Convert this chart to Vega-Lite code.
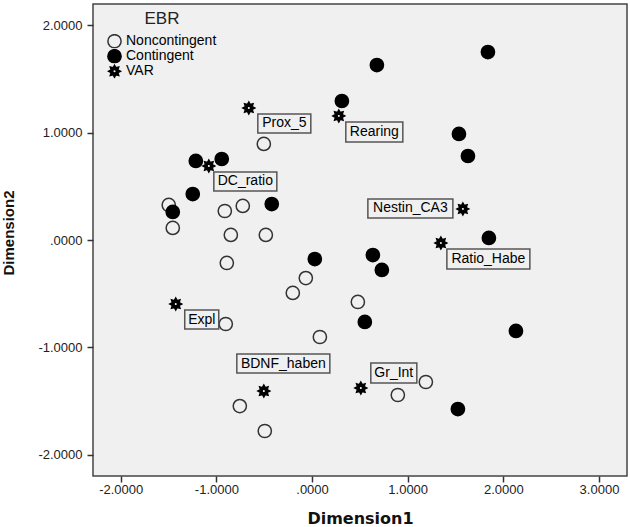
{
  "$schema": "https://vega.github.io/schema/vega-lite/v6.json",
  "width": 534,
  "height": 472,
  "autosize": "none",
  "padding": {"left": 93, "top": 4, "right": 3, "bottom": 51},
  "background": "white",
  "config": {
    "font": "Liberation Sans",
    "view": {"fill": "#f0f0f0", "stroke": "#444444", "strokeWidth": 1.5},
    "axis": {
      "grid": false,
      "domain": false,
      "tickColor": "#333333",
      "tickWidth": 1.5,
      "tickSize": 6,
      "labelFont": "Liberation Sans",
      "labelFontSize": 13,
      "labelColor": "#222222",
      "titleColor": "#111111",
      "titleFontWeight": "bold"
    }
  },
  "datasets": {
    "pts": [
      {"dim1": -1.498, "dim2": 0.326, "group": "Noncontingent", "label": ""},
      {"dim1": -1.456, "dim2": 0.112, "group": "Noncontingent", "label": ""},
      {"dim1": -0.912, "dim2": 0.270, "group": "Noncontingent", "label": ""},
      {"dim1": -0.724, "dim2": 0.317, "group": "Noncontingent", "label": ""},
      {"dim1": -0.849, "dim2": 0.047, "group": "Noncontingent", "label": ""},
      {"dim1": -0.483, "dim2": 0.047, "group": "Noncontingent", "label": ""},
      {"dim1": -0.891, "dim2": -0.214, "group": "Noncontingent", "label": ""},
      {"dim1": -0.504, "dim2": 0.894, "group": "Noncontingent", "label": ""},
      {"dim1": -0.065, "dim2": -0.354, "group": "Noncontingent", "label": ""},
      {"dim1": -0.201, "dim2": -0.493, "group": "Noncontingent", "label": ""},
      {"dim1": 0.479, "dim2": -0.577, "group": "Noncontingent", "label": ""},
      {"dim1": -0.902, "dim2": -0.782, "group": "Noncontingent", "label": ""},
      {"dim1": 0.082, "dim2": -0.903, "group": "Noncontingent", "label": ""},
      {"dim1": 1.190, "dim2": -1.322, "group": "Noncontingent", "label": ""},
      {"dim1": 0.897, "dim2": -1.443, "group": "Noncontingent", "label": ""},
      {"dim1": -0.755, "dim2": -1.546, "group": "Noncontingent", "label": ""},
      {"dim1": -0.494, "dim2": -1.778, "group": "Noncontingent", "label": ""},
      {"dim1": 1.839, "dim2": 1.750, "group": "Contingent", "label": ""},
      {"dim1": 0.678, "dim2": 1.629, "group": "Contingent", "label": ""},
      {"dim1": 0.312, "dim2": 1.294, "group": "Contingent", "label": ""},
      {"dim1": 1.536, "dim2": 0.987, "group": "Contingent", "label": ""},
      {"dim1": 1.630, "dim2": 0.782, "group": "Contingent", "label": ""},
      {"dim1": -1.215, "dim2": 0.736, "group": "Contingent", "label": ""},
      {"dim1": -0.944, "dim2": 0.754, "group": "Contingent", "label": ""},
      {"dim1": -1.247, "dim2": 0.428, "group": "Contingent", "label": ""},
      {"dim1": -1.456, "dim2": 0.261, "group": "Contingent", "label": ""},
      {"dim1": -0.421, "dim2": 0.335, "group": "Contingent", "label": ""},
      {"dim1": 0.029, "dim2": -0.177, "group": "Contingent", "label": ""},
      {"dim1": 0.636, "dim2": -0.140, "group": "Contingent", "label": ""},
      {"dim1": 0.730, "dim2": -0.279, "group": "Contingent", "label": ""},
      {"dim1": 1.849, "dim2": 0.019, "group": "Contingent", "label": ""},
      {"dim1": 0.552, "dim2": -0.763, "group": "Contingent", "label": ""},
      {"dim1": 2.132, "dim2": -0.847, "group": "Contingent", "label": ""},
      {"dim1": 1.525, "dim2": -1.574, "group": "Contingent", "label": ""},
      {"dim1": -0.661, "dim2": 1.229, "group": "VAR", "label": "Prox_5"},
      {"dim1": 0.280, "dim2": 1.155, "group": "VAR", "label": "Rearing"},
      {"dim1": -1.079, "dim2": 0.689, "group": "VAR", "label": "DC_ratio"},
      {"dim1": 1.577, "dim2": 0.289, "group": "VAR", "label": "Nestin_CA3"},
      {"dim1": 1.347, "dim2": -0.028, "group": "VAR", "label": "Ratio_Habe"},
      {"dim1": -1.425, "dim2": -0.596, "group": "VAR", "label": "Expl"},
      {"dim1": -0.504, "dim2": -1.406, "group": "VAR", "label": "BDNF_haben"},
      {"dim1": 0.510, "dim2": -1.378, "group": "VAR", "label": "Gr_Int"}
    ]
  },
  "data": {"name": "pts"},
  "encoding": {
    "x": {
      "field": "dim1",
      "type": "quantitative",
      "scale": {"domain": [-2.29, 3.293], "nice": false, "zero": false},
      "axis": {
        "title": "Dimension1",
        "values": [-2, -1, 0, 1, 2, 3],
        "labelExpr": "datum.value === 0 ? '.0000' : (datum.value < 0 ? '-' + format(-datum.value, '.4f') : format(datum.value, '.4f'))",
        "labelPadding": 1,
        "titleFont": "DejaVu Sans",
        "titleFontSize": 16,
        "titleY": 47,
        "titleBaseline": "alphabetic"
      }
    },
    "y": {
      "field": "dim2",
      "type": "quantitative",
      "scale": {"domain": [-2.197, 2.197], "nice": false, "zero": false},
      "axis": {
        "title": "Dimension2",
        "values": [-2, -1, 0, 1, 2],
        "labelExpr": "datum.value === 0 ? '.0000' : (datum.value < 0 ? '-' + format(-datum.value, '.4f') : format(datum.value, '.4f'))",
        "labelPadding": 5,
        "titleFont": "Liberation Sans",
        "titleFontSize": 15,
        "titleX": -79.5,
        "titleY": 228.5,
        "titleBaseline": "alphabetic"
      }
    }
  },
  "layer": [
    {
      "mark": {"type": "point", "filled": true, "size": 175, "strokeWidth": 1.5, "opacity": 1},
      "encoding": {
        "shape": {
          "field": "group", "type": "nominal",
          "scale": {"domain": ["Noncontingent", "Contingent", "VAR"], "range": ["circle", "circle", "M0.9,0L0.515,0.213L0.636,0.636L0.213,0.515L0,0.9L-0.213,0.515L-0.636,0.636L-0.515,0.213L-0.9,0L-0.515,-0.213L-0.636,-0.636L-0.213,-0.515L0,-0.9L0.213,-0.515L0.636,-0.636L0.515,-0.213ZM0.28,0L0.198,-0.198L0,-0.28L-0.198,-0.198L-0.28,0L-0.198,0.198L0,0.28L0.198,0.198Z"]},
          "legend": {"title": "EBR", "orient": "none", "legendX": 14, "legendY": 7, "padding": 0, "titleFontSize": 17, "titleFontWeight": "normal", "titleColor": "#222222", "titleAnchor": "middle", "titlePadding": 6, "labelFontSize": 14, "labelColor": "#000000", "labelOffset": 4, "rowPadding": 0, "clipHeight": 14.5, "symbolSize": 175, "symbolStrokeWidth": 1.5}
        },
        "fill": {
          "field": "group", "type": "nominal",
          "scale": {"domain": ["Noncontingent", "Contingent", "VAR"], "range": ["transparent", "#000000", "#000000"]},
          "legend": {"title": "EBR", "orient": "none", "legendX": 14, "legendY": 7, "padding": 0, "titleFontSize": 17, "titleFontWeight": "normal", "titleColor": "#222222", "titleAnchor": "middle", "titlePadding": 6, "labelFontSize": 14, "labelColor": "#000000", "labelOffset": 4, "rowPadding": 0, "clipHeight": 14.5, "symbolSize": 175, "symbolStrokeWidth": 1.5}
        },
        "stroke": {
          "field": "group", "type": "nominal",
          "scale": {"domain": ["Noncontingent", "Contingent", "VAR"], "range": ["#333333", "#000000", "#000000"]},
          "legend": {"title": "EBR", "orient": "none", "legendX": 14, "legendY": 7, "padding": 0, "titleFontSize": 17, "titleFontWeight": "normal", "titleColor": "#222222", "titleAnchor": "middle", "titlePadding": 6, "labelFontSize": 14, "labelColor": "#000000", "labelOffset": 4, "rowPadding": 0, "clipHeight": 14.5, "symbolSize": 175, "symbolStrokeWidth": 1.5}
        }
      }
    },
    {
      "transform": [{"filter": "datum.group === 'VAR'"}],
      "mark": {"type": "point", "filled": false, "size": 4, "stroke": "#555555", "strokeWidth": 1.5, "opacity": 1},
      "encoding": {
        "shape": {
          "field": "label", "type": "nominal",
          "scale": {
            "domain": ["Prox_5", "Rearing", "DC_ratio", "Nestin_CA3", "Ratio_Habe", "Expl", "BDNF_haben", "Gr_Int"],
            "range": ["M9,6H62V25H9Z", "M7,6H64V26H7Z", "M5,6H68V25H5Z", "M-95,-10H-10V9H-95Z", "M6,6H89V26H6Z", "M9,6H43V25H9Z", "M-27,-37H66V-18H-27Z", "M10,-25H56V-5H10Z"]
          },
          "legend": null
        }
      }
    },
    {
      "transform": [{"filter": "datum.label === 'Prox_5'"}],
      "mark": {"type": "text", "align": "center", "baseline": "middle", "dx": 35.5, "dy": 15.5, "fontSize": 14, "color": "#000000"},
      "encoding": {"text": {"field": "label"}}
    },
    {
      "transform": [{"filter": "datum.label === 'Rearing'"}],
      "mark": {"type": "text", "align": "center", "baseline": "middle", "dx": 35.5, "dy": 16, "fontSize": 14, "color": "#000000"},
      "encoding": {"text": {"field": "label"}}
    },
    {
      "transform": [{"filter": "datum.label === 'DC_ratio'"}],
      "mark": {"type": "text", "align": "center", "baseline": "middle", "dx": 36.5, "dy": 15.5, "fontSize": 14, "color": "#000000"},
      "encoding": {"text": {"field": "label"}}
    },
    {
      "transform": [{"filter": "datum.label === 'Nestin_CA3'"}],
      "mark": {"type": "text", "align": "center", "baseline": "middle", "dx": -52.5, "dy": -0.5, "fontSize": 14, "color": "#000000"},
      "encoding": {"text": {"field": "label"}}
    },
    {
      "transform": [{"filter": "datum.label === 'Ratio_Habe'"}],
      "mark": {"type": "text", "align": "center", "baseline": "middle", "dx": 47.5, "dy": 16, "fontSize": 14, "color": "#000000"},
      "encoding": {"text": {"field": "label"}}
    },
    {
      "transform": [{"filter": "datum.label === 'Expl'"}],
      "mark": {"type": "text", "align": "center", "baseline": "middle", "dx": 26, "dy": 15.5, "fontSize": 14, "color": "#000000"},
      "encoding": {"text": {"field": "label"}}
    },
    {
      "transform": [{"filter": "datum.label === 'BDNF_haben'"}],
      "mark": {"type": "text", "align": "center", "baseline": "middle", "dx": 19.5, "dy": -27.5, "fontSize": 14, "color": "#000000"},
      "encoding": {"text": {"field": "label"}}
    },
    {
      "transform": [{"filter": "datum.label === 'Gr_Int'"}],
      "mark": {"type": "text", "align": "center", "baseline": "middle", "dx": 33, "dy": -15, "fontSize": 14, "color": "#000000"},
      "encoding": {"text": {"field": "label"}}
    }
  ],
  "resolve": {"scale": {"shape": "independent", "fill": "independent", "stroke": "independent"}}
}
